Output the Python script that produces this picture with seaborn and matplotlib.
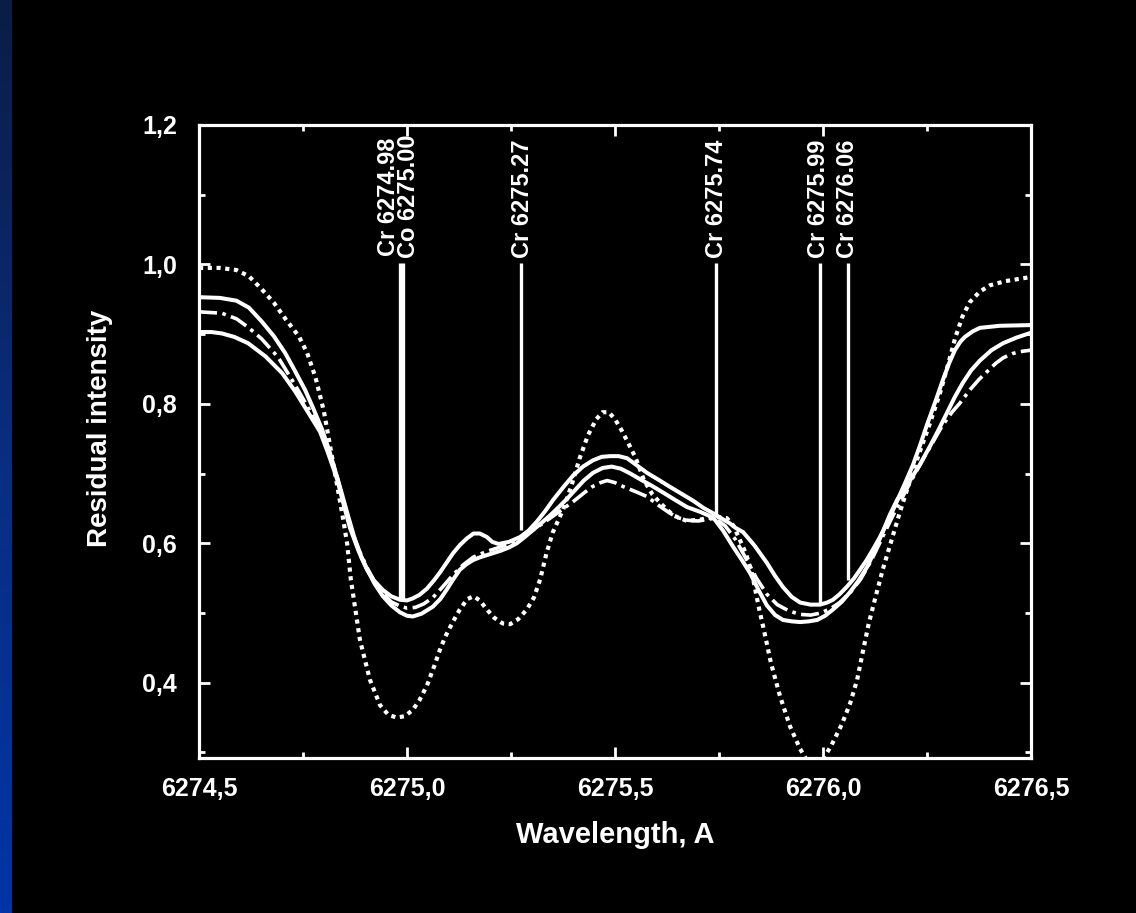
import numpy as np
import pandas as pd
import matplotlib
matplotlib.use("Agg")
import matplotlib.pyplot as plt
from matplotlib.colors import LinearSegmentedColormap
import seaborn as sns

# ---------------- data ----------------
D_wl = [6274.500, 6274.550, 6274.590, 6274.620, 6274.650, 6274.680, 6274.710, 6274.740,
        6274.760, 6274.780, 6274.800, 6274.815, 6274.830, 6274.845, 6274.856, 6274.865,
        6274.887, 6274.911, 6274.935, 6274.955, 6274.975, 6274.995, 6275.014, 6275.030,
        6275.048, 6275.065, 6275.079, 6275.092, 6275.110, 6275.127, 6275.145, 6275.160,
        6275.175, 6275.192, 6275.210, 6275.230, 6275.248, 6275.267, 6275.288, 6275.305,
        6275.320, 6275.335, 6275.350, 6275.375, 6275.395, 6275.415, 6275.435, 6275.455,
        6275.470, 6275.485, 6275.500, 6275.515, 6275.530, 6275.550, 6275.570, 6275.590,
        6275.610, 6275.640, 6275.673, 6275.704, 6275.740, 6275.769, 6275.785, 6275.800,
        6275.815, 6275.830, 6275.845, 6275.860, 6275.875, 6275.897, 6275.921, 6275.945,
        6275.970, 6275.995, 6276.020, 6276.045, 6276.065, 6276.082, 6276.096, 6276.110,
        6276.125, 6276.144, 6276.161, 6276.185, 6276.209, 6276.233, 6276.257, 6276.281,
        6276.300, 6276.318, 6276.335, 6276.353, 6276.377, 6276.401, 6276.438, 6276.500]
D_int = [0.995, 0.995, 0.992, 0.983, 0.965, 0.945, 0.920, 0.897,
         0.873, 0.838, 0.790, 0.740, 0.690, 0.640, 0.600, 0.548,
         0.461, 0.404, 0.368, 0.354, 0.350, 0.352, 0.361, 0.375,
         0.396, 0.423, 0.447, 0.466, 0.487, 0.505, 0.520, 0.524,
         0.518, 0.505, 0.493, 0.485, 0.484, 0.491, 0.505, 0.522,
         0.548, 0.585, 0.615, 0.648, 0.682, 0.722, 0.755, 0.778,
         0.788, 0.788, 0.778, 0.763, 0.746, 0.722, 0.690, 0.670,
         0.657, 0.640, 0.632, 0.634, 0.638, 0.636, 0.625, 0.605,
         0.585, 0.555, 0.510, 0.470, 0.428, 0.380, 0.337, 0.305,
         0.280, 0.285, 0.310, 0.340, 0.370, 0.404, 0.445, 0.485,
         0.520, 0.563, 0.597, 0.645, 0.690, 0.732, 0.772, 0.815,
         0.855, 0.895, 0.925, 0.946, 0.961, 0.970, 0.976, 0.982]

A_wl = [6274.500, 6274.550, 6274.590, 6274.620, 6274.651, 6274.680, 6274.707, 6274.730,
        6274.755, 6274.775, 6274.796, 6274.812, 6274.827, 6274.843, 6274.858, 6274.875,
        6274.890, 6274.904, 6274.920, 6274.942, 6274.962, 6274.983, 6275.000, 6275.014,
        6275.030, 6275.048, 6275.065, 6275.079, 6275.095, 6275.111, 6275.128, 6275.144,
        6275.160, 6275.175, 6275.192, 6275.205, 6275.220, 6275.245, 6275.272, 6275.292,
        6275.312, 6275.332, 6275.351, 6275.375, 6275.399, 6275.423, 6275.447, 6275.468,
        6275.488, 6275.509, 6275.529, 6275.552, 6275.577, 6275.605, 6275.632, 6275.660,
        6275.688, 6275.712, 6275.736, 6275.755, 6275.775, 6275.790, 6275.808, 6275.835,
        6275.865, 6275.885, 6275.904, 6275.925, 6275.945, 6275.970, 6275.993, 6276.010,
        6276.024, 6276.040, 6276.058, 6276.075, 6276.089, 6276.105, 6276.120, 6276.137,
        6276.154, 6276.170, 6276.185, 6276.200, 6276.216, 6276.233, 6276.250, 6276.270,
        6276.288, 6276.303, 6276.317, 6276.330, 6276.341, 6276.360, 6276.377, 6276.425,
        6276.500]
A_int = [0.953, 0.952, 0.948, 0.938, 0.918, 0.897, 0.873, 0.848,
         0.820, 0.793, 0.763, 0.735, 0.705, 0.672, 0.640, 0.605,
         0.580, 0.562, 0.547, 0.533, 0.524, 0.519, 0.518, 0.521,
         0.526, 0.535, 0.547, 0.558, 0.572, 0.586, 0.598, 0.607,
         0.614, 0.614, 0.609, 0.602, 0.599, 0.602, 0.609, 0.618,
         0.631, 0.646, 0.662, 0.680, 0.697, 0.710, 0.719, 0.724,
         0.725, 0.725, 0.722, 0.712, 0.701, 0.691, 0.681, 0.671,
         0.661, 0.651, 0.643, 0.636, 0.629, 0.622, 0.616, 0.597,
         0.572, 0.553, 0.537, 0.523, 0.515, 0.512, 0.512, 0.515,
         0.519, 0.527, 0.538, 0.550, 0.562, 0.576, 0.591, 0.609,
         0.629, 0.650, 0.670, 0.690, 0.712, 0.740, 0.770, 0.803,
         0.834, 0.858, 0.877, 0.889, 0.896, 0.904, 0.909, 0.912,
         0.913]

B_wl = [6274.500, 6274.530, 6274.555, 6274.585, 6274.618, 6274.660, 6274.700, 6274.731,
        6274.760, 6274.791, 6274.810, 6274.832, 6274.848, 6274.863, 6274.883, 6274.904,
        6274.922, 6274.942, 6274.962, 6274.983, 6275.000, 6275.014, 6275.035, 6275.062,
        6275.080, 6275.096, 6275.112, 6275.127, 6275.143, 6275.159, 6275.176, 6275.192,
        6275.224, 6275.245, 6275.264, 6275.283, 6275.303, 6275.323, 6275.344, 6275.365,
        6275.385, 6275.405, 6275.425, 6275.447, 6275.470, 6275.492, 6275.514, 6275.537,
        6275.560, 6275.590, 6275.615, 6275.645, 6275.673, 6275.705, 6275.736, 6275.760,
        6275.784, 6275.805, 6275.825, 6275.845, 6275.865, 6275.885, 6275.904, 6275.925,
        6275.945, 6275.966, 6275.986, 6276.005, 6276.024, 6276.045, 6276.065, 6276.085,
        6276.106, 6276.125, 6276.144, 6276.160, 6276.178, 6276.195, 6276.209, 6276.233,
        6276.257, 6276.278, 6276.298, 6276.317, 6276.336, 6276.356, 6276.377, 6276.405,
        6276.433, 6276.465, 6276.500]
B_int = [0.903, 0.903, 0.901, 0.896, 0.887, 0.868, 0.844, 0.818,
         0.790, 0.760, 0.730, 0.692, 0.655, 0.622, 0.590, 0.563,
         0.542, 0.524, 0.511, 0.501, 0.496, 0.495, 0.499, 0.509,
         0.520, 0.534, 0.549, 0.562, 0.570, 0.576, 0.580, 0.583,
         0.589, 0.594, 0.600, 0.609, 0.619, 0.629, 0.640, 0.652,
         0.664, 0.677, 0.690, 0.701, 0.708, 0.710, 0.707, 0.700,
         0.692, 0.682, 0.673, 0.662, 0.652, 0.645, 0.637, 0.618,
         0.595, 0.576, 0.557, 0.533, 0.511, 0.497, 0.490, 0.488,
         0.487, 0.488, 0.490, 0.496, 0.505, 0.516, 0.530, 0.546,
         0.566, 0.590, 0.617, 0.640, 0.662, 0.678, 0.690, 0.713,
         0.739, 0.763, 0.787, 0.810, 0.830, 0.848, 0.862, 0.877,
         0.887, 0.895, 0.902]

C_wl = [6274.500, 6274.555, 6274.590, 6274.618, 6274.651, 6274.690, 6274.731, 6274.760,
        6274.791, 6274.830, 6274.863, 6274.885, 6274.904, 6274.922, 6274.942, 6274.962,
        6274.983, 6275.000, 6275.020, 6275.040, 6275.062, 6275.085, 6275.111, 6275.135,
        6275.159, 6275.190, 6275.216, 6275.240, 6275.264, 6275.295, 6275.330, 6275.365,
        6275.400, 6275.425, 6275.445, 6275.465, 6275.481, 6275.500, 6275.521, 6275.550,
        6275.577, 6275.608, 6275.630, 6275.649, 6275.675, 6275.700, 6275.740, 6275.765,
        6275.790, 6275.815, 6275.840, 6275.865, 6275.890, 6275.918, 6275.945, 6275.970,
        6275.995, 6276.020, 6276.040, 6276.065, 6276.090, 6276.115, 6276.140, 6276.165,
        6276.190, 6276.215, 6276.240, 6276.265, 6276.286, 6276.310, 6276.329, 6276.353,
        6276.375, 6276.394, 6276.415, 6276.433, 6276.455, 6276.474, 6276.500]
C_int = [0.932, 0.930, 0.922, 0.910, 0.893, 0.867, 0.827, 0.797,
         0.763, 0.700, 0.625, 0.590, 0.565, 0.545, 0.528, 0.516,
         0.510, 0.507, 0.508, 0.513, 0.522, 0.537, 0.555, 0.569,
         0.580, 0.588, 0.593, 0.598, 0.605, 0.616, 0.630, 0.645,
         0.660, 0.672, 0.681, 0.687, 0.690, 0.687, 0.681, 0.674,
         0.667, 0.653, 0.644, 0.637, 0.633, 0.632, 0.636, 0.625,
         0.605, 0.578, 0.550, 0.527, 0.512, 0.503, 0.498, 0.497,
         0.500, 0.507, 0.515, 0.529, 0.548, 0.574, 0.605, 0.636,
         0.665, 0.693, 0.720, 0.746, 0.768, 0.788, 0.801, 0.820,
         0.835, 0.846, 0.858, 0.866, 0.872, 0.875, 0.877]

line_wl = [6274.982, 6274.990, 6275.274, 6275.743, 6275.993, 6276.060]
line_bottom = [0.519, 0.519, 0.619, 0.638, 0.512, 0.548]
line_top = [1.002, 1.002, 1.002, 1.002, 1.002, 1.002]

label_wl = [6274.980, 6275.278, 6275.745, 6275.990, 6276.058]
label_text = ["Cr 6274.98\nCo 6275.00", "Cr 6275.27", "Cr 6275.74", "Cr 6275.99", "Cr 6276.06"]

x_ticks = [6274.5, 6275.0, 6275.5, 6276.0, 6276.5]
x_ticklabels = ["6274,5", "6275,0", "6275,5", "6276,0", "6276,5"]
y_ticks = [0.4, 0.6, 0.8, 1.0, 1.2]
y_ticklabels = ["0,4", "0,6", "0,8", "1,0", "1,2"]

# ---------------- style ----------------
sns.set_theme(style="dark")
FONT = ["Liberation Sans", "DejaVu Sans"]
plt.rcParams["font.family"] = FONT
plt.rcParams["font.weight"] = "bold"

W = "white"
fig = plt.figure(figsize=(11.36, 9.13), dpi=100, facecolor="black")

# blue gradient strip at left edge
gax = fig.add_axes([0, 0, 12 / 1136, 1])
grad = np.linspace(0, 1, 256).reshape(-1, 1)
cm = LinearSegmentedColormap.from_list("bl", ["#0b1d45", "#0a2d80", "#0035a6"])
gax.imshow(grad, aspect="auto", cmap=cm, origin="upper")
gax.axis("off")

ax = fig.add_axes([199 / 1136, 1 - 758 / 913, (1031 - 199) / 1136, (758 - 125) / 913])
ax.set_facecolor("black")

lw = 2.9
sns.lineplot(x=A_wl, y=A_int, ax=ax, color=W, lw=lw, sort=False, solid_joinstyle="round")
sns.lineplot(x=B_wl, y=B_int, ax=ax, color=W, lw=lw, sort=False, solid_joinstyle="round")
sns.lineplot(x=C_wl, y=C_int, ax=ax, color=W, lw=2.6, sort=False,
             linestyle=(0, (5, 1.5, 1, 1.5)), dash_joinstyle="round")
sns.lineplot(x=D_wl, y=D_int, ax=ax, color=W, lw=3.0, sort=False, linestyle=(0, (1, 1.1)))

ax.vlines(line_wl, line_bottom, line_top, colors=W, lw=2.4)
for wl, txt in zip(label_wl, label_text):
    ax.text(wl, 1.009, txt, rotation=90, ha="center", va="bottom", color=W,
            fontsize=17, fontweight="bold", family=FONT, linespacing=0.85)

ax.set_xlim(6274.5, 6276.5)
ax.set_ylim(0.292, 1.2)
ax.set_xticks(x_ticks)
ax.set_xticklabels(x_ticklabels)
ax.set_yticks(y_ticks)
ax.set_yticklabels(y_ticklabels)
ax.set_xticks([6274.75, 6275.25, 6275.75, 6276.25], minor=True)
ax.set_yticks([0.3, 0.5, 0.7, 0.9, 1.1], minor=True)
ax.tick_params(which="both", direction="in", colors=W, top=True, right=True,
               bottom=True, left=True, width=2.0, labelsize=18)
ax.tick_params(axis="x", which="major", pad=14)
ax.tick_params(axis="y", which="major", pad=16)
ax.tick_params(which="major", length=8)
ax.tick_params(which="minor", length=4)
for lab in ax.get_xticklabels() + ax.get_yticklabels():
    lab.set_fontweight("bold")
    lab.set_color(W)
for s in ax.spines.values():
    s.set_visible(True)
    s.set_color(W)
    s.set_linewidth(2.3)
ax.grid(False)

ax.set_xlabel("Wavelength, A", color=W, fontsize=21, fontweight="bold", labelpad=14)
ax.set_ylabel("Residual intensity", color=W, fontsize=20, fontweight="bold")
ax.yaxis.set_label_coords(-0.103, 0.52)

fig.savefig("out.png", dpi=100, facecolor="black")
